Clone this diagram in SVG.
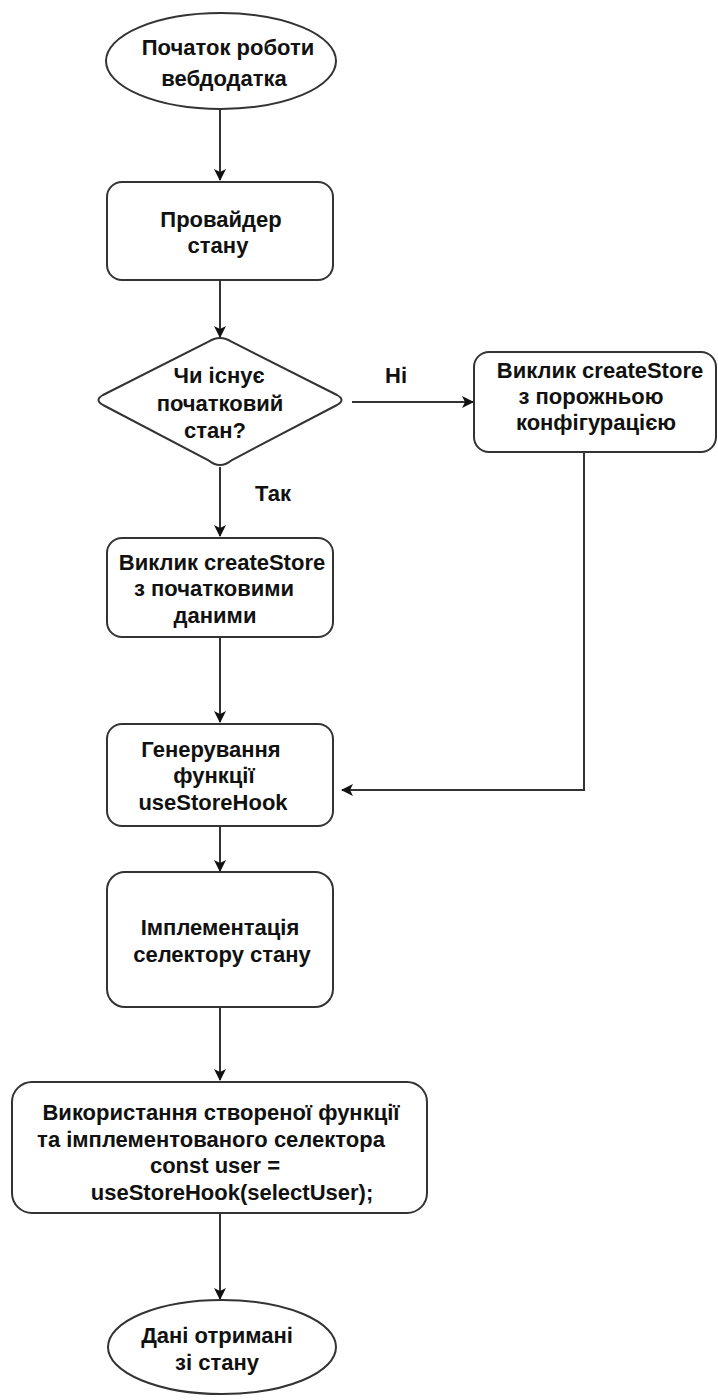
<svg xmlns="http://www.w3.org/2000/svg" width="718" height="1400" viewBox="0 0 718 1400">
<style>
.n{fill:#fff;stroke:#333;stroke-width:2}
.t{font-family:"Liberation Sans",Arial,sans-serif;font-weight:bold;font-size:22px;fill:#111;text-anchor:middle}
.c{fill:none;stroke:#333;stroke-width:2}
</style>
<defs>
<marker id="a" viewBox="0 0 12 12" refX="11" refY="6" markerWidth="12" markerHeight="12" markerUnits="userSpaceOnUse" orient="auto">
<path d="M0,0 L12,6 L0,12 L3,6 Z" fill="#111"/>
</marker>
</defs>
<rect width="718" height="1400" fill="#fff"/>
<g id="connectors">
<line class="c" x1="220" y1="110" x2="220" y2="180" marker-end="url(#a)"/>
<line class="c" x1="220" y1="280" x2="220" y2="337" marker-end="url(#a)"/>
<line class="c" x1="352" y1="402" x2="473" y2="402" marker-end="url(#a)"/>
<line class="c" x1="220" y1="467" x2="220" y2="536" marker-end="url(#a)"/>
<polyline class="c" points="584,453 584,790 342,790" marker-end="url(#a)"/>
<line class="c" x1="220" y1="637" x2="220" y2="722" marker-end="url(#a)"/>
<line class="c" x1="220" y1="827" x2="220" y2="871" marker-end="url(#a)"/>
<line class="c" x1="220" y1="1008" x2="220" y2="1080" marker-end="url(#a)"/>
<line class="c" x1="220" y1="1213" x2="220" y2="1299" marker-end="url(#a)"/>
<text class="t" x="396" y="383">Ні</text>
<text class="t" x="273" y="501">Так</text>
</g>
<g id="start">
<ellipse class="n" cx="221" cy="61" rx="115" ry="48"/>
<text class="t" x="228" y="55">Початок роботи</text>
<text class="t" x="224" y="86">вебдодатка</text>
</g>
<g id="provider">
<rect class="n" x="107" y="182" width="226" height="98" rx="15"/>
<text class="t" x="221" y="227">Провайдер</text>
<text class="t" x="218" y="253">стану</text>
</g>
<g id="decision">
<path class="n" d="M220,338 Q226,338 232,342 L337,395 Q346,400 337,405 L232,460 Q226,465 220,465 Q214,465 208,460 L103,405 Q94,400 103,395 L208,342 Q214,338 220,338 Z"/>
<text class="t" x="219" y="383">Чи існує</text>
<text class="t" x="220" y="411">початковий</text>
<text class="t" x="215" y="438">стан?</text>
</g>
<g id="create-empty">
<rect class="n" x="474" y="352" width="242" height="100" rx="15"/>
<text class="t" x="600" y="378">Виклик createStore</text>
<text class="t" x="591" y="404">з порожньою</text>
<text class="t" x="596" y="430">конфігурацією</text>
</g>
<g id="create-initial">
<rect class="n" x="107" y="538" width="226" height="99" rx="15"/>
<text class="t" x="222" y="570">Виклик createStore</text>
<text class="t" x="214" y="596">з початковими</text>
<text class="t" x="215" y="623">даними</text>
</g>
<g id="generate">
<rect class="n" x="107" y="724" width="226" height="102" rx="15"/>
<text class="t" x="211" y="757">Генерування</text>
<text class="t" x="214" y="783">функції</text>
<text class="t" x="213" y="810">useStoreHook</text>
</g>
<g id="selector">
<rect class="n" x="107" y="872" width="226" height="135" rx="18"/>
<text class="t" x="220" y="935">Імплементація</text>
<text class="t" x="222" y="962">селектору стану</text>
</g>
<g id="usage">
<rect class="n" x="12" y="1082" width="415" height="131" rx="20"/>
<text class="t" x="221" y="1120">Використання створеної функції</text>
<text class="t" x="211" y="1147">та імплементованого селектора</text>
<text class="t" x="215" y="1173">const user =</text>
<text class="t" x="232" y="1200">useStoreHook(selectUser);</text>
</g>
<g id="end">
<ellipse class="n" cx="222" cy="1347" rx="114" ry="47"/>
<text class="t" x="217" y="1343">Дані отримані</text>
<text class="t" x="217" y="1370">зі стану</text>
</g>
</svg>
